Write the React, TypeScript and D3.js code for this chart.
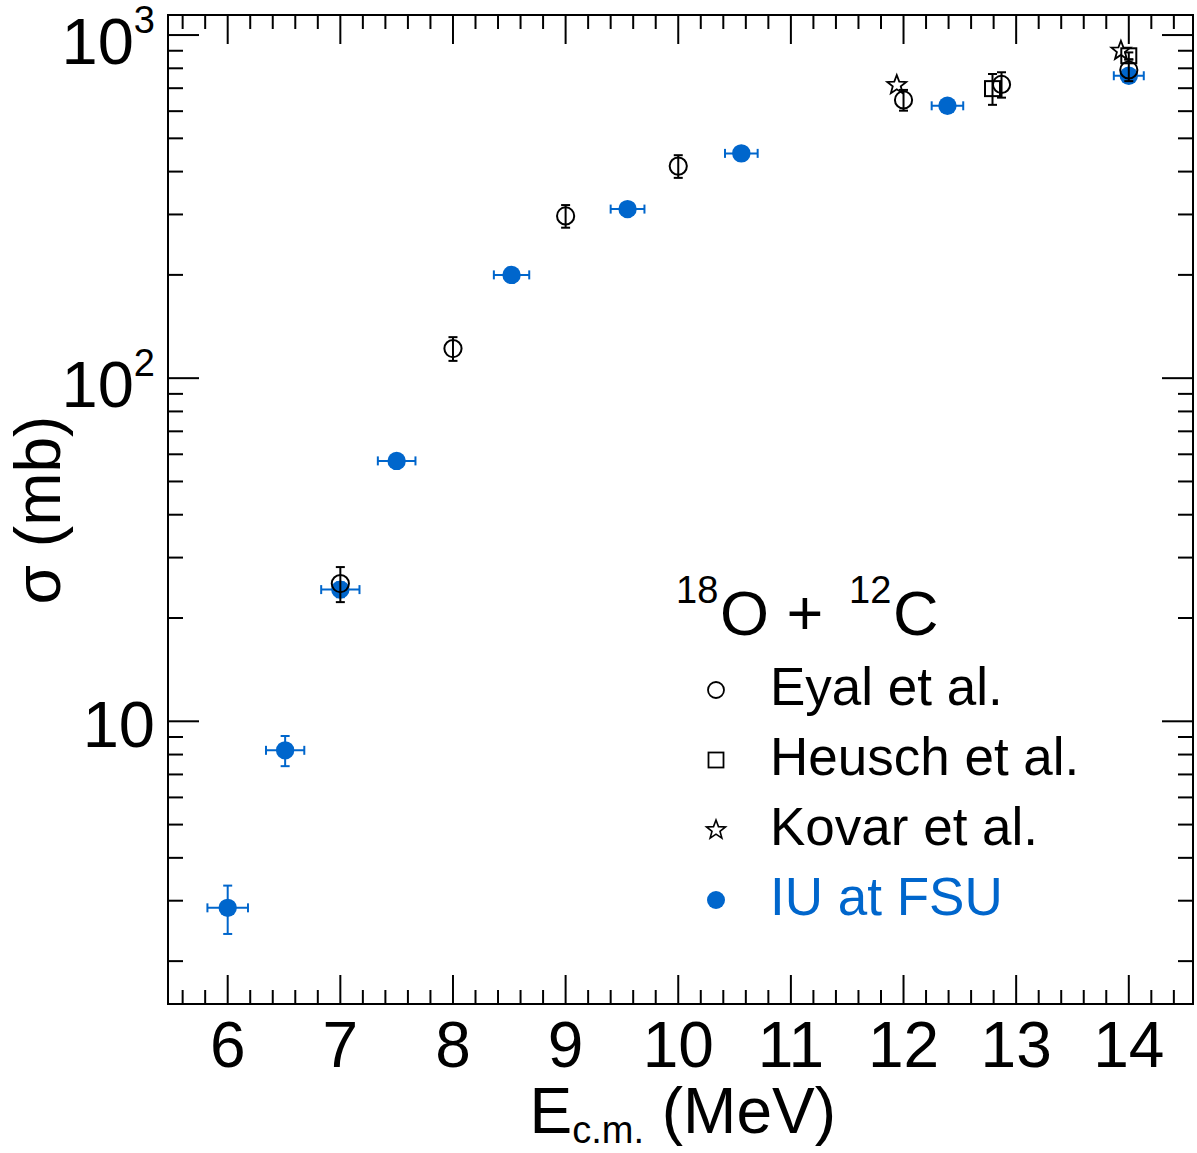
import React from 'react';
import * as d3 from 'd3';

// Fusion cross section data for 18O + 12C
const iuEnergy = [6.0, 6.51, 7.0, 7.5, 8.52, 9.55, 10.56, 12.39, 14.0];
const iuEnergyErr = [0.18, 0.17, 0.17, 0.167, 0.157, 0.15, 0.145, 0.14, 0.133];
const iuSigma = [2.86, 8.23, 24.2, 57.4, 200, 311, 452, 622, 761];
const iuSigmaErr = [0.46, 0.83, 1.2, 2.5, 8, 12, 16, 22, 25];

const eyalEnergy = [7.0, 8.0, 9.0, 10.0, 12.0, 12.87, 14.0];
const eyalSigma = [25.2, 122, 297, 415, 647, 718, 791];
const eyalSigmaErr = [2.95, 9.7, 22.5, 31.5, 45, 61, 57];

const heuschEnergy = [12.79, 14.0];
const heuschSigma = [698, 870];
const heuschSigmaErr = [72, 20];

const kovarEnergy = [11.94, 13.93];
const kovarSigma = [715, 900];

const xMajorTicks = [6, 7, 8, 9, 10, 11, 12, 13, 14];
const yMajorTicks = [10, 100, 1000];
const yTickExponents = ['', '2', '3'];
const legendLabels = ['Eyal et al.', 'Heusch et al.', 'Kovar et al.', 'IU at FSU'];

const W = 1197;
const H = 1153;
const FRAME = { left: 168, right: 1193, top: 15, bottom: 1004 };
const BLUE = '#0066cc';
const FONT = '"Liberation Sans", Arial, Helvetica, sans-serif';

const x = d3.scaleLinear().domain([5.47, 14.57]).range([FRAME.left, FRAME.right]);
const y = d3.scaleLog().domain([1.5, 1144]).range([FRAME.bottom, FRAME.top]);

const xMinorTicks = d3
  .range(5.6, 14.6, 0.2)
  .map((v) => Math.round(v * 10) / 10)
  .filter((v) => Math.abs(v - Math.round(v)) > 1e-6 && v > 5.47 && v < 14.57);

const yMinorTicks: number[] = [];
[1, 10, 100].forEach((d) => {
  for (let k = 2; k <= 9; k++) {
    const v = k * d;
    if (v > 1.5 && v < 1144) yMinorTicks.push(v);
  }
});

function starPath(cx: number, cy: number, R: number, r: number) {
  const pts: string[] = [];
  for (let i = 0; i < 10; i++) {
    const rad = i % 2 === 0 ? R : r;
    const a = -Math.PI / 2 + (i * Math.PI) / 5;
    pts.push(`${(cx + rad * Math.cos(a)).toFixed(2)},${(cy + rad * Math.sin(a)).toFixed(2)}`);
  }
  return 'M' + pts.join('L') + 'Z';
}

function VErr({ cx, lo, hi, color }: { cx: number; lo: number; hi: number; color: string }) {
  return (
    <g stroke={color} strokeWidth={2}>
      <line x1={cx} x2={cx} y1={lo} y2={hi} />
      <line x1={cx - 4.5} x2={cx + 4.5} y1={lo} y2={lo} />
      <line x1={cx - 4.5} x2={cx + 4.5} y1={hi} y2={hi} />
    </g>
  );
}

function HErr({ cy, lo, hi, color }: { cy: number; lo: number; hi: number; color: string }) {
  return (
    <g stroke={color} strokeWidth={2}>
      <line x1={lo} x2={hi} y1={cy} y2={cy} />
      <line x1={lo} x2={lo} y1={cy - 4.5} y2={cy + 4.5} />
      <line x1={hi} x2={hi} y1={cy - 4.5} y2={cy + 4.5} />
    </g>
  );
}

export default function App() {
  return (
    <svg
      width={W}
      height={H}
      viewBox={`0 0 ${W} ${H}`}
      style={{ position: 'absolute', left: 0, top: 0, background: '#fff' }}
      fontFamily={FONT}
    >
      <rect x={0} y={0} width={W} height={H} fill="#fff" />

      {/* ticks */}
      <g stroke="#000" strokeWidth={2}>
        {xMajorTicks.map((t) => (
          <g key={'xm' + t}>
            <line x1={x(t)} x2={x(t)} y1={FRAME.bottom} y2={FRAME.bottom - 29} />
            <line x1={x(t)} x2={x(t)} y1={FRAME.top} y2={FRAME.top + 29} />
          </g>
        ))}
        {xMinorTicks.map((t) => (
          <g key={'xn' + t}>
            <line x1={x(t)} x2={x(t)} y1={FRAME.bottom} y2={FRAME.bottom - 14} />
            <line x1={x(t)} x2={x(t)} y1={FRAME.top} y2={FRAME.top + 14} />
          </g>
        ))}
        {yMajorTicks.map((t) => (
          <g key={'ym' + t}>
            <line x1={FRAME.left} x2={FRAME.left + 31} y1={y(t)} y2={y(t)} />
            <line x1={FRAME.right} x2={FRAME.right - 31} y1={y(t)} y2={y(t)} />
          </g>
        ))}
        {yMinorTicks.map((t) => (
          <g key={'yn' + t}>
            <line x1={FRAME.left} x2={FRAME.left + 15} y1={y(t)} y2={y(t)} />
            <line x1={FRAME.right} x2={FRAME.right - 15} y1={y(t)} y2={y(t)} />
          </g>
        ))}
      </g>

      {/* frame */}
      <rect
        x={FRAME.left}
        y={FRAME.top}
        width={FRAME.right - FRAME.left}
        height={FRAME.bottom - FRAME.top}
        fill="none"
        stroke="#000"
        strokeWidth={2}
      />

      {/* x tick labels */}
      {xMajorTicks.map((t) => (
        <text key={'xl' + t} x={x(t)} y={1067} fontSize={64} textAnchor="middle" fill="#000">
          {t}
        </text>
      ))}

      {/* y tick labels */}
      {yMajorTicks.map((t, i) => (
        <text
          key={'yl' + t}
          x={155}
          y={y(t) + (yTickExponents[i] ? 29 : 26)}
          fontSize={65}
          textAnchor="end"
          fill="#000"
        >
          10
          {yTickExponents[i] ? (
            <tspan fontSize={38} dy={-31}>
              {yTickExponents[i]}
            </tspan>
          ) : null}
        </text>
      ))}

      {/* axis titles */}
      <text x={836} y={1133} fontSize={64} textAnchor="end" fill="#000">
        E<tspan fontSize={38} dy={10}>c.m.</tspan>
        <tspan dy={-10}> (MeV)</tspan>
      </text>
      <text
        transform={`translate(60, 510) rotate(-90)`}
        fontSize={64}
        textAnchor="middle"
        fill="#000"
      >
        σ (mb)
      </text>

      {/* IU at FSU */}
      <g>
        {iuEnergy.map((e, i) => (
          <g key={'iu' + i}>
            <HErr cy={y(iuSigma[i])} lo={x(e - iuEnergyErr[i])} hi={x(e + iuEnergyErr[i])} color={BLUE} />
            <VErr cx={x(e)} lo={y(iuSigma[i] - iuSigmaErr[i])} hi={y(iuSigma[i] + iuSigmaErr[i])} color={BLUE} />
            <circle cx={x(e)} cy={y(iuSigma[i])} r={9.2} fill={BLUE} />
          </g>
        ))}
      </g>

      {/* Heusch et al. */}
      <g>
        {heuschEnergy.map((e, i) => (
          <g key={'he' + i}>
            <VErr cx={x(e)} lo={y(heuschSigma[i] - heuschSigmaErr[i])} hi={y(heuschSigma[i] + heuschSigmaErr[i])} color="#000" />
            <rect x={x(e) - 7.5} y={y(heuschSigma[i]) - 7.5} width={15} height={15} fill="none" stroke="#000" strokeWidth={2} />
          </g>
        ))}
      </g>

      {/* Eyal et al. */}
      <g>
        {eyalEnergy.map((e, i) => (
          <g key={'ey' + i}>
            <VErr cx={x(e)} lo={y(eyalSigma[i] - eyalSigmaErr[i])} hi={y(eyalSigma[i] + eyalSigmaErr[i])} color="#000" />
            <circle cx={x(e)} cy={y(eyalSigma[i])} r={8.6} fill="none" stroke="#000" strokeWidth={2} />
          </g>
        ))}
      </g>

      {/* Kovar et al. */}
      <g>
        {kovarEnergy.map((e, i) => (
          <path key={'ko' + i} d={starPath(x(e), y(kovarSigma[i]), 10, 4.2)} fill="none" stroke="#000" strokeWidth={1.8} />
        ))}
      </g>

      {/* legend */}
      <g>
        <text x={676} y={603} fontSize={38} fill="#000">18</text>
        <text x={720} y={635} fontSize={63} fill="#000">O +</text>
        <text x={849} y={603} fontSize={38} fill="#000">12</text>
        <text x={893} y={635} fontSize={63} fill="#000">C</text>
        {legendLabels.map((label, i) => {
          const base = 705 + i * 70;
          const cy = base - 15;
          const cx = 716;
          let marker: React.ReactNode = null;
          if (i === 0) marker = <circle cx={cx} cy={cy} r={8} fill="none" stroke="#000" strokeWidth={1.8} />;
          if (i === 1)
            marker = <rect x={cx - 7.5} y={cy - 7.5} width={15} height={15} fill="none" stroke="#000" strokeWidth={1.8} />;
          if (i === 2) marker = <path d={starPath(cx, cy, 10, 4.2)} fill="none" stroke="#000" strokeWidth={1.6} />;
          if (i === 3) marker = <circle cx={cx} cy={cy} r={9} fill={BLUE} />;
          return (
            <g key={'lg' + i}>
              {marker}
              <text x={770} y={base} fontSize={53} fill={i === 3 ? BLUE : '#000'}>
                {label}
              </text>
            </g>
          );
        })}
      </g>
    </svg>
  );
}
